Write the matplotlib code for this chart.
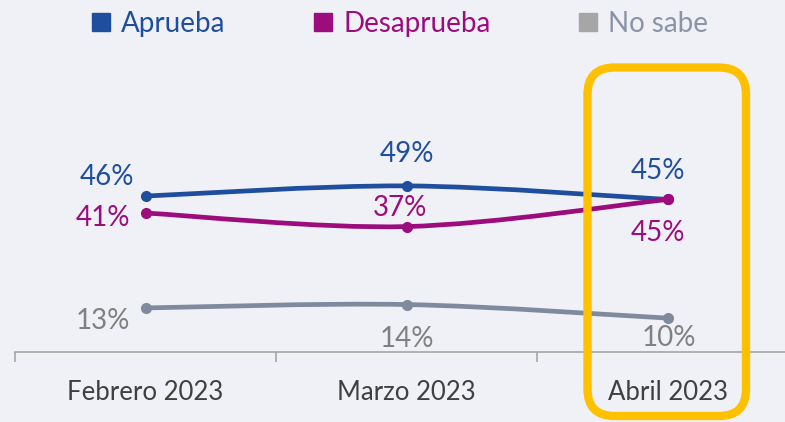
import matplotlib.pyplot as plt
from matplotlib.path import Path
from matplotlib.patches import PathPatch, FancyBboxPatch
from matplotlib.lines import Line2D
from matplotlib.transforms import IdentityTransform

plt.rcParams['font.family'] = ['Lato', 'DejaVu Sans']

# data
months = ["Febrero 2023", "Marzo 2023", "Abril 2023"]
aprueba = [46, 49, 45]
desaprueba = [41, 37, 45]
no_sabe = [13, 14, 10]

BG = "#f0f1f6"
C_APR = "#1f4e9e"
C_DES = "#9c0c7c"
C_NS = "#7f8a9e"
C_NS_TXT = "#808080"

# label offsets in pixels (dx, dy) for each point
off_apr = [(-39, 19), (0, 32), (-10, 28)]
off_des = [(-43, -5), (-6, 19), (-10, -34)]
off_ns = [(-43, -13), (0, -34), (1, -20)]


def smooth_path(xs, ys, k=1/6):
    # catmull-rom style bezier, like excel's smoothed lines
    pts = list(zip(xs, ys))
    ext = [pts[0]] + pts + [pts[-1]]
    verts = [pts[0]]
    codes = [Path.MOVETO]
    for i in range(1, len(ext) - 2):
        p0, p1, p2, p3 = ext[i - 1], ext[i], ext[i + 1], ext[i + 2]
        c1 = (p1[0] + (p2[0] - p0[0]) * k, p1[1] + (p2[1] - p0[1]) * k)
        c2 = (p2[0] - (p3[0] - p1[0]) * k, p2[1] - (p3[1] - p1[1]) * k)
        verts += [c1, c2, p2]
        codes += [Path.CURVE4] * 3
    return Path(verts, codes)


fig = plt.figure(figsize=(7.85, 4.22), dpi=100, facecolor=BG)
ax = fig.add_axes([15 / 785, 70 / 422, 770 / 785, 339 / 422])
ax.set_facecolor(BG)
ax.set_xlim(-0.5, 2.45)
ax.set_ylim(0, 100)

x = list(range(len(months)))
for vals, col, offs, tcol in [(aprueba, C_APR, off_apr, C_APR),
                              (desaprueba, C_DES, off_des, C_DES),
                              (no_sabe, C_NS, off_ns, C_NS_TXT)]:
    ax.add_patch(PathPatch(smooth_path(x, vals), fill=False, edgecolor=col,
                           lw=3.4, capstyle='round', zorder=3))
    ax.plot(x, vals, 'o', color=col, ms=7, zorder=4)
    for xi, v, (dx, dy) in zip(x, vals, offs):
        ax.annotate(f"{v}%", (xi, v), xytext=(dx * 0.72, dy * 0.72),
                    textcoords='offset points', ha='center', va='center',
                    fontsize=20, color=tcol, zorder=5)

for s in ['top', 'right', 'left']:
    ax.spines[s].set_visible(False)
ax.spines['bottom'].set_color('#a6a6a6')
ax.spines['bottom'].set_linewidth(1.2)
ax.set_yticks([])
ax.set_xticks(x)
ax.set_xticklabels(months, fontsize=18.5, color='#404040')
ax.tick_params(axis='x', which='major', length=0, pad=20)
ax.set_xticks([-0.5, 0.5, 1.5], minor=True)
ax.tick_params(axis='x', which='minor', length=7, width=1.2, color='#a6a6a6')

# highlight box around last month (pixel coords)
box = FancyBboxPatch((587.5 + 27, 6 + 27), 746 - 587.5 - 54, 354.5 - 6 - 54,
                     boxstyle="round,pad=27", transform=IdentityTransform(),
                     fill=False, edgecolor='#ffc000', lw=6, zorder=6)
fig.patches.append(box)

handles = [Line2D([], [], ls='none', marker='s', ms=13, color=C_APR),
           Line2D([], [], ls='none', marker='s', ms=13, color=C_DES),
           Line2D([], [], ls='none', marker='s', ms=13, color='#a6a6a6')]
leg = fig.legend(handles, ["Aprueba", "Desaprueba", "No sabe"], ncol=3,
                 loc='center', bbox_to_anchor=(400 / 785, 1 - 24 / 422),
                 frameon=False, fontsize=20, handlelength=0.65,
                 handletextpad=0.4, columnspacing=3.2, borderpad=0)
for t, c in zip(leg.get_texts(), [C_APR, C_DES, "#8a94a8"]):
    t.set_color(c)

fig.savefig("out.png", dpi=100, facecolor=BG)
